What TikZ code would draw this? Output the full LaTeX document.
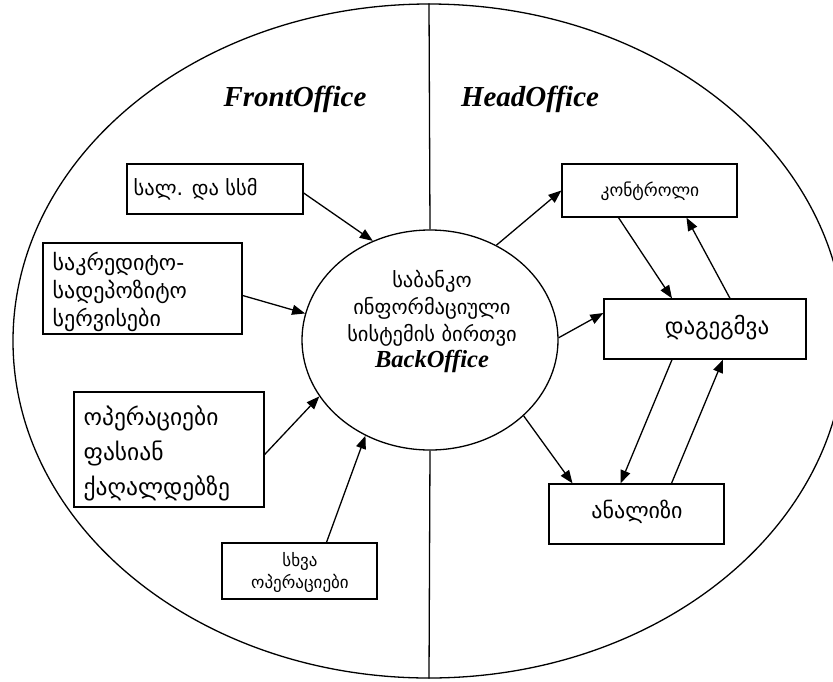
\documentclass[tikz,border=0pt]{standalone}
\usepackage{fontspec}
\setmainfont{Liberation Serif}
\newfontfamily\geo{DejaVu Sans}
\usetikzlibrary{arrows.meta,shapes.geometric}
\begin{document}
\begin{tikzpicture}[x=1pt,y=-1pt,
  line width=1.3pt,
  box/.style={draw, rectangle, inner sep=0pt},
  gtxt/.style={font=\geo\fontsize{22}{28}\selectfont, align=left, inner sep=0pt},
  gbig/.style={font=\geo\fontsize{23.5}{35}\selectfont, align=left, inner sep=0pt},
  gsmall/.style={font=\geo\fontsize{17}{22}\selectfont, align=center, inner sep=0pt},
  gcore/.style={font=\geo\fontsize{20.5}{27}\selectfont, align=center, inner sep=0pt},
  title/.style={font=\fontsize{29}{32}\selectfont\bfseries\itshape, inner sep=0pt},
  arr/.style={-{Triangle[length=13pt,width=10pt]}}
]
\useasboundingbox (0,0) rectangle (833,681);

% outer field and the core system
\node[draw, ellipse, minimum width=832, minimum height=674, inner sep=0pt] (outer) at (429,341) {};
\node[draw, ellipse, minimum width=256, minimum height=220, inner sep=0pt] (core) at (430,340) {};
\draw (outer.north) -- (core.north);
\draw (core.south) -- (outer.south);

% section titles
\node[title] (front) at (295,99) {FrontOffice};
\node[title] (head) at (530,99) {HeadOffice};

% core label
\node[gcore] (coretxt) at (432,322) {საბანკო\\ინფორმაციული\\სისტემის ბირთვი\\[-1pt]{\rmfamily\bfseries\itshape\fontsize{24.5}{26}\selectfont BackOffice}};

% front office boxes
\node[box, minimum width=176, minimum height=50] (s1) at (215,189) {};
\node[gtxt, font=\geo\fontsize{20.5}{27}\selectfont, anchor=west] (s1t) at (133,189) {სალ. და სსმ};

\node[box, minimum width=199, minimum height=91] (s2) at (142.5,288.5) {};
\node[gtxt, anchor=west] (s2t) at (52,292) {საკრედიტო-\\სადეპოზიტო\\სერვისები};

\node[box, minimum width=190, minimum height=115] (s3) at (169,449.5) {};
\node[gbig, anchor=west] (s3t) at (83,453) {ოპერაციები\\ფასიან\\ქაღალდებზე};

\node[box, minimum width=155, minimum height=56] (s4) at (299.5,571) {};
\node[gsmall] (s4t) at (300,572) {სხვა\\ოპერაციები};

% head office boxes
\node[box, minimum width=175, minimum height=53] (k) at (649.5,190.5) {};
\node[gtxt, font=\geo\fontsize{17.5}{22}\selectfont] (kt) at (650,191) {კონტროლი};

\node[box, minimum width=202, minimum height=60] (d) at (705,329) {};
\node[gtxt, font=\geo\fontsize{23}{28}\selectfont] (dt) at (717,328) {დაგეგმვა};

\node[box, minimum width=175, minimum height=60] (a) at (636.5,514) {};
\node[gtxt] (at) at (637,512) {ანალიზი};

% flows into the core
\draw[arr] ([yshift=-4pt]s1.east) -- (core.120);
\draw[arr] ([yshift=-7pt]s2.east) -- (core.168);
\draw[arr] ([yshift=-5pt]s3.east) -- (core.207);
\draw[arr] ([xshift=27pt]s4.north) -- (core.236);

% flows out of the core
\draw[arr] (core.55) -- (k.west);
\draw[arr] (core.1) -- ([yshift=16pt]d.west);
\draw[arr] (core.-39) -- ([xshift=-64pt]a.north);

% planning cycle
\draw[arr] ([xshift=-31pt]k.south) -- ([xshift=-33pt]d.north);
\draw[arr] ([xshift=25pt]d.north) -- ([xshift=37pt]k.south);
\draw[arr] ([xshift=-33pt]d.south) -- ([xshift=-16pt]a.north);
\draw[arr] ([xshift=35pt]a.north) -- ([xshift=18pt]d.south);
\end{tikzpicture}
\end{document}
